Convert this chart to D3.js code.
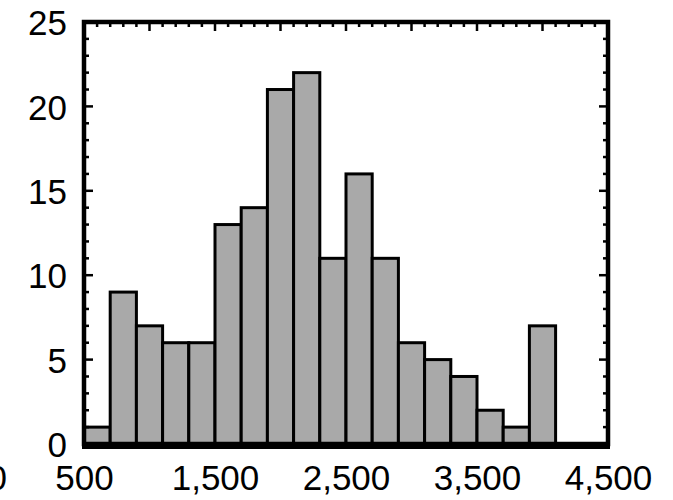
<!DOCTYPE html>
<html>
<head>
<meta charset="utf-8">
<script src="https://cdn.jsdelivr.net/npm/d3@7"></script>
<style>
  html, body { margin: 0; padding: 0; background: #fff; }
  svg { display: block; }
  text { font-family: "Liberation Sans", Arial, sans-serif; font-size: 35px; fill: #000; }
</style>
</head>
<body>
<svg id="chart" width="673" height="500"></svg>
<script>
// ---- data ----
const binStarts = [500, 700, 900, 1100, 1300, 1500, 1700, 1900, 2100, 2300, 2500, 2700, 2900, 3100, 3300, 3500, 3700, 3900];
const binWidth = 200;
const counts = [1, 9, 7, 6, 6, 13, 14, 21, 22, 11, 16, 11, 6, 5, 4, 2, 1, 7];
const xTickValues = [500, 1500, 2500, 3500, 4500];
const xTickLabels = ["500", "1,500", "2,500", "3,500", "4,500"];
const yTickValues = [0, 5, 10, 15, 20, 25];
const xDomain = [500, 4500];
const yDomain = [0, 25];

// ---- layout ----
const svg = d3.select("#chart");
const L = 84, R = 608, T = 22, B = 444;
const FONT = "Liberation Sans, Arial, sans-serif";
const x = d3.scaleLinear().domain(xDomain).range([L, R]);
const y = d3.scaleLinear().domain(yDomain).range([B, T]);

// bars
svg.append("g").selectAll("rect")
  .data(binStarts)
  .join("rect")
  .attr("x", (d) => x(d))
  .attr("width", (d) => x(d + binWidth) - x(d))
  .attr("y", (d, i) => y(counts[i]))
  .attr("height", (d, i) => y(0) - y(counts[i]))
  .attr("fill", "#a9a9a9")
  .attr("stroke", "#000")
  .attr("stroke-width", 3);

// frame
svg.append("rect")
  .attr("x", L).attr("y", T)
  .attr("width", R - L).attr("height", B - T)
  .attr("fill", "none").attr("stroke", "#000").attr("stroke-width", 4.5);
svg.append("line")
  .attr("x1", L - 2).attr("x2", R + 2)
  .attr("y1", B + 2).attr("y2", B + 2)
  .attr("stroke", "#000").attr("stroke-width", 6);

// inward ticks: left and right (every 1), top (every 100)
const yMinor = d3.range(yDomain[0], yDomain[1] + 1, 1);
const tickG = svg.append("g").attr("stroke", "#000").attr("stroke-width", 2.5);
yMinor.forEach(v => {
  const len = v % 5 === 0 ? 9 : 5;
  tickG.append("line").attr("x1", L).attr("x2", L + len).attr("y1", y(v)).attr("y2", y(v));
  tickG.append("line").attr("x1", R).attr("x2", R - len).attr("y1", y(v)).attr("y2", y(v));
});
const xMinor = d3.range(xDomain[0], xDomain[1] + 1, 100);
xMinor.forEach(v => {
  const len = v % 500 === 0 ? 9 : 5;
  tickG.append("line").attr("x1", x(v)).attr("x2", x(v)).attr("y1", T).attr("y2", T + len);
});

// y axis labels
const yAxis = d3.axisLeft(y).tickValues(yTickValues).tickSize(0).tickPadding(17).tickFormat(d3.format("d"));
const gy = svg.append("g").attr("transform", `translate(${L},0)`).call(yAxis);
gy.select(".domain").remove();
gy.selectAll("text").attr("font-size", 35).attr("font-family", FONT).attr("dy", "0.36em");

// x axis labels
const xAxis = d3.axisBottom(x).tickValues(xTickValues).tickSize(0).tickPadding(0)
  .tickFormat((d, i) => xTickLabels[i]);
const gx = svg.append("g").attr("transform", `translate(0,${B})`).call(xAxis);
gx.select(".domain").remove();
gx.selectAll("text").attr("font-size", 35).attr("font-family", FONT)
  .attr("dy", null).attr("y", 46);

// clipped label at far left edge
svg.append("text").attr("x", 7).attr("y", 490).attr("text-anchor", "end").text("0");
</script>
</body>
</html>
